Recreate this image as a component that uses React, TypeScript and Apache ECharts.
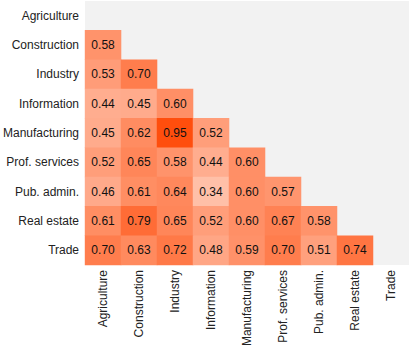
import React, { useEffect, useRef } from "react";
import * as echarts from "echarts";

const categories = [
  "Agriculture",
  "Construction",
  "Industry",
  "Information",
  "Manufacturing",
  "Prof. services",
  "Pub. admin.",
  "Real estate",
  "Trade",
];

// lower-triangle rows (row i has values for columns 0..i-1)
const rowConstruction = [0.58];
const rowIndustry = [0.53, 0.7];
const rowInformation = [0.44, 0.45, 0.6];
const rowManufacturing = [0.45, 0.62, 0.95, 0.52];
const rowProfServices = [0.52, 0.65, 0.58, 0.44, 0.6];
const rowPubAdmin = [0.46, 0.61, 0.64, 0.34, 0.6, 0.57];
const rowRealEstate = [0.61, 0.79, 0.65, 0.52, 0.6, 0.67, 0.58];
const rowTrade = [0.7, 0.63, 0.72, 0.48, 0.59, 0.7, 0.51, 0.74];

const rows: number[][] = [
  [],
  rowConstruction,
  rowIndustry,
  rowInformation,
  rowManufacturing,
  rowProfServices,
  rowPubAdmin,
  rowRealEstate,
  rowTrade,
];

export default function App() {
  const ref = useRef<HTMLDivElement>(null);
  useEffect(() => {
    document.body.style.margin = "0";
    if (!ref.current) return;
    const chart = echarts.init(ref.current, null, { renderer: "svg" });
    const data: [number, number, number][] = [];
    rows.forEach((r, i) => r.forEach((v, j) => data.push([j, i, v])));
    chart.setOption({
      animation: false,
      textStyle: { fontFamily: "Liberation Sans, Arial, sans-serif" },
      grid: {
        left: 85,
        top: 1,
        right: 3,
        bottom: 95,
        show: true,
        backgroundColor: "#f2f2f2",
        borderWidth: 0,
      },
      xAxis: {
        type: "category",
        data: categories,
        axisLine: { show: false },
        axisTick: { show: false },
        splitLine: { show: false },
        axisLabel: {
          rotate: 90,
          interval: 0,
          margin: 5,
          fontSize: 12,
          color: "#222",
          fontFamily: "Liberation Sans, Arial, sans-serif",
        },
      },
      yAxis: {
        type: "category",
        data: categories,
        inverse: true,
        axisLine: { show: false },
        axisTick: { show: false },
        splitLine: { show: false },
        axisLabel: {
          interval: 0,
          margin: 6,
          fontSize: 12,
          color: "#222",
          fontFamily: "Liberation Sans, Arial, sans-serif",
        },
      },
      visualMap: {
        show: false,
        min: 0,
        max: 1,
        dimension: 2,
        inRange: { color: ["#ffffff", "#ff4500"] },
      },
      series: [
        {
          type: "heatmap",
          data,
          label: {
            show: true,
            fontSize: 12,
            color: "#111",
            fontFamily: "Liberation Sans, Arial, sans-serif",
            formatter: (p: any) => p.value[2].toFixed(2),
          },
          itemStyle: { borderWidth: 0 },
          emphasis: { disabled: true },
        },
      ],
    });
    return () => chart.dispose();
  }, []);
  return <div ref={ref} style={{ width: 412, height: 360 }} />;
}
